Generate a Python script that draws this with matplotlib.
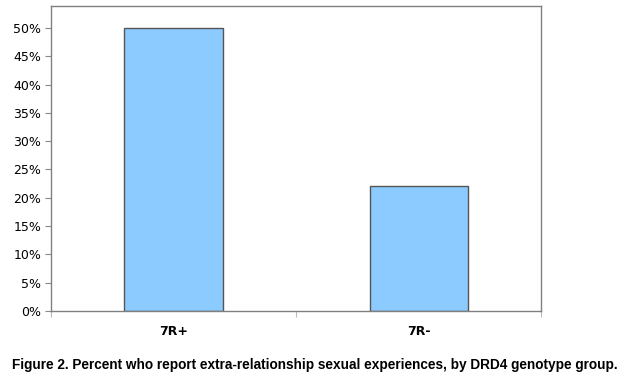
import matplotlib
matplotlib.use("Agg")
import matplotlib.pyplot as plt
from matplotlib.ticker import PercentFormatter

groups = ["7R+", "7R-"]
percent = [0.50, 0.22]
yticks = [0.0, 0.05, 0.10, 0.15, 0.20, 0.25, 0.30, 0.35, 0.40, 0.45, 0.50]
caption = "Figure 2. Percent who report extra-relationship sexual experiences, by DRD4 genotype group."

fig = plt.figure(figsize=(6.36, 3.75), dpi=100)
ax = fig.add_axes([0.080, 0.171, 0.771, 0.813])

ax.bar(range(len(groups)), percent, width=0.4, color="#8CCBFF", edgecolor="#555555", linewidth=1)

ax.set_xlim(-0.5, 1.5)
ax.set_ylim(0, 0.539)
ax.set_yticks(yticks)
ax.yaxis.set_major_formatter(PercentFormatter(1.0, decimals=0))
# ticks on the category boundaries, labels between them
ax.set_xticks([-0.5, 0.5, 1.5])
ax.set_xticklabels([])
ax.set_xticks(range(len(groups)), minor=True)
ax.set_xticklabels(groups, minor=True, fontweight="bold", fontsize=9)
ax.tick_params(axis="x", which="minor", length=0, pad=10)
ax.tick_params(axis="x", which="major", length=4, color="#bbbbbb")
ax.tick_params(axis="y", length=4, color="#888888", labelsize=9, pad=3)

for s in ax.spines.values():
    s.set_color("#808080")
    s.set_linewidth(1)

fig.text(0.019, 0.027, caption, fontweight="bold", fontsize=9.85,
         family="Liberation Sans", ha="left", va="center")

fig.savefig("out.png", dpi=100)
